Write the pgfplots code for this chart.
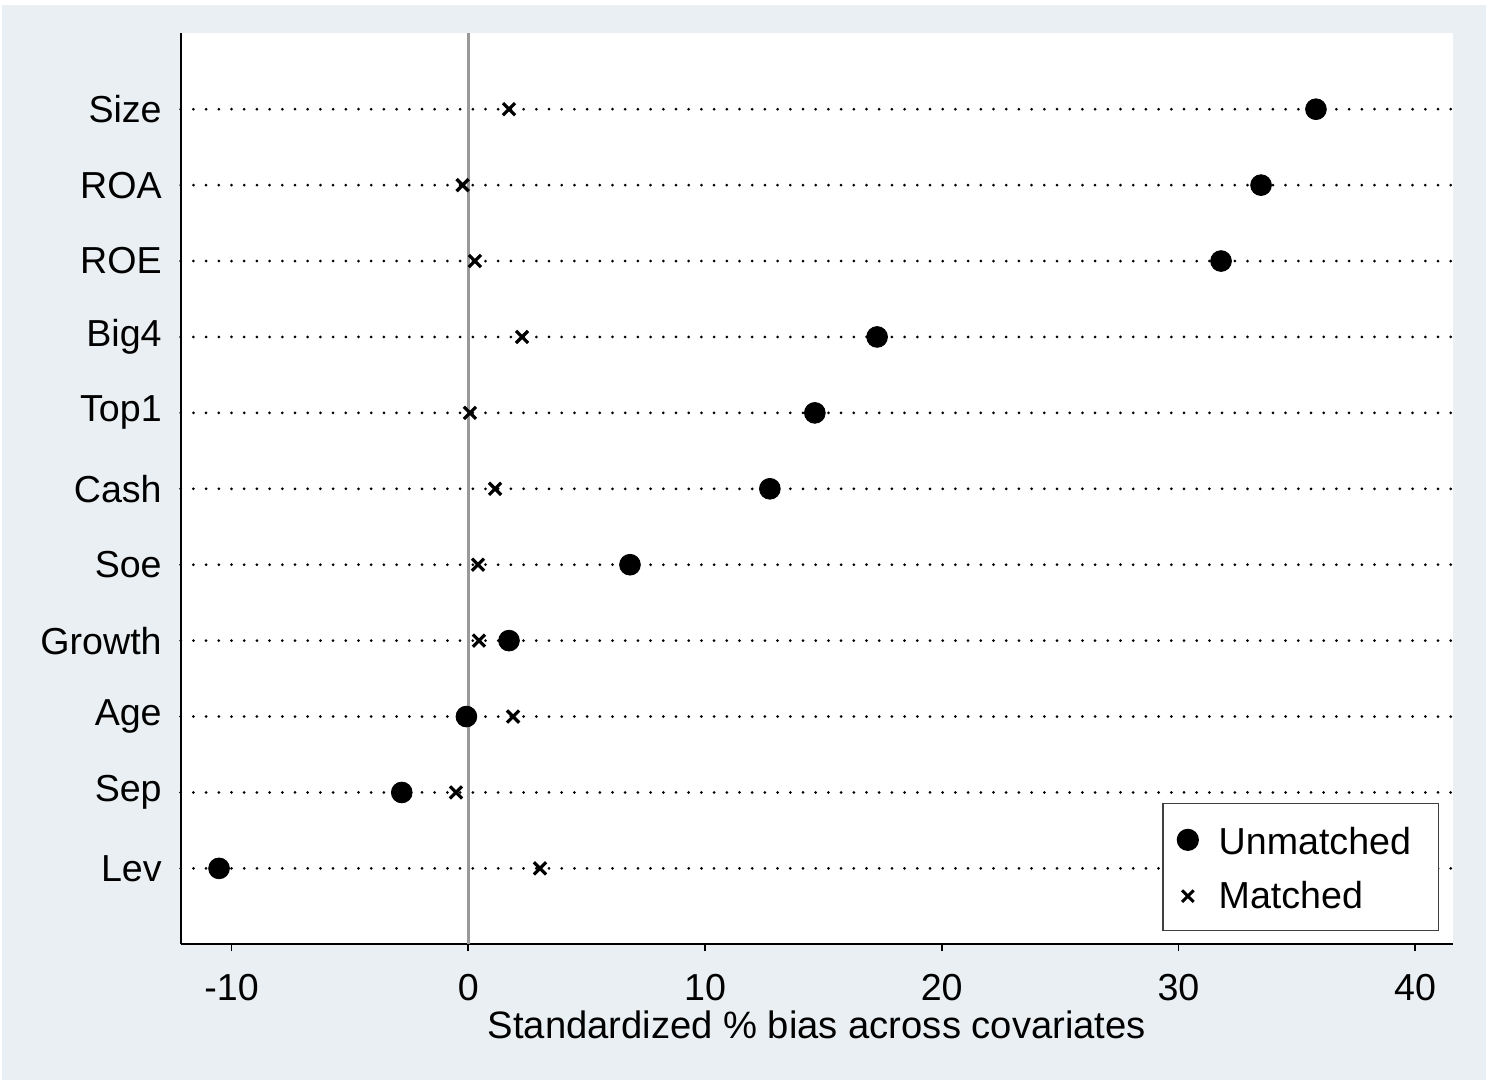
\documentclass[border=0pt]{standalone}
\usepackage{fontspec}
\setmainfont{Liberation Sans}
\usepackage{pgfplots}
\pgfplotsset{compat=1.18}
\definecolor{bgc}{RGB}{233,239,242}
\newcommand{\fs}{\fontsize{18.8bp}{22bp}\selectfont}
\newcommand{\fl}{\fontsize{19.1bp}{22bp}\selectfont}

\begin{document}
\begin{tikzpicture}
\fill[white] (0,0) rectangle (747bp,540bp);
\fill[bgc] (0.75bp,0) rectangle (743bp,537.5bp);
\begin{axis}[
  at={(90.35bp,67.85bp)}, anchor=south west,
  scale only axis, width=636.15bp, height=455.5bp,
  xmin=-12.15, xmax=41.6, ymin=0, ymax=12,
  axis x line*=bottom, axis y line*=left,
  axis line style={-, black, line width=0.9bp},
  axis background/.style={fill=white},
  xtick={-10,0,10,20,30,40},
  xticklabels={-10,0,10,20,30,40},
  ytick={1,...,11},
  yticklabels={Lev,Sep,Age,Growth,Soe,Cash,Top1,Big4,ROE,ROA,Size},
  tick align=outside, major tick length=3.5bp,
  xtick style={black, line width=0.9bp},
  ytick style={draw=none},
  ymajorgrids,
  major grid style={black, line width=1.5bp, dash pattern=on 0pt off 6.35bp, line cap=round},
  tick label style={font=\fs, text=black},
  xticklabel shift=8bp,
  yticklabel style={xshift=-2.5bp},
  xlabel={Standardized \% bias across covariates},
  xlabel style={font=\fl, at={(axis description cs:0.5,0)}, anchor=center, yshift=-40.3bp},
  legend style={at={(axis cs:41.02,0.176)}, anchor=south east, draw=black!75, line width=0.7bp, fill=white, font=\fs, inner xsep=7.3bp, inner ysep=7.5bp, row sep=8bp, cells={anchor=west},
    /tikz/every odd column/.append style={column sep=8.25bp}},
  legend cell align=left,
  legend image code/.code={\draw[#1] plot coordinates {(0.2cm,0cm)};},
]
\addplot[forget plot, black!40, line width=1.5bp] coordinates {(0,0) (0,12)};
\addplot[only marks, mark=*, mark size=5.2bp, black] coordinates {
(35.81,11) (33.49,10) (31.80,9) (17.27,8) (14.64,7) (12.74,6) (6.83,5) (1.72,4) (-0.08,3) (-2.81,2) (-10.53,1)};
\addlegendentry{\rule{0pt}{15.7bp}Unmatched\rule{4.5bp}{0pt}}
\addplot[forget plot, only marks, mark=x, mark size=4.3bp, black, line width=1.6bp] coordinates {
(1.72,11) (-0.24,10) (0.28,9) (2.27,8) (0.07,7) (1.13,6) (0.41,5) (0.45,4) (1.89,3) (-0.52,2) (3.03,1)};
\addlegendimage{only marks, mark=x, mark size=4.1bp, black, line width=1.5bp}
\addlegendentry{Matched}
\end{axis}
\end{tikzpicture}
\end{document}
